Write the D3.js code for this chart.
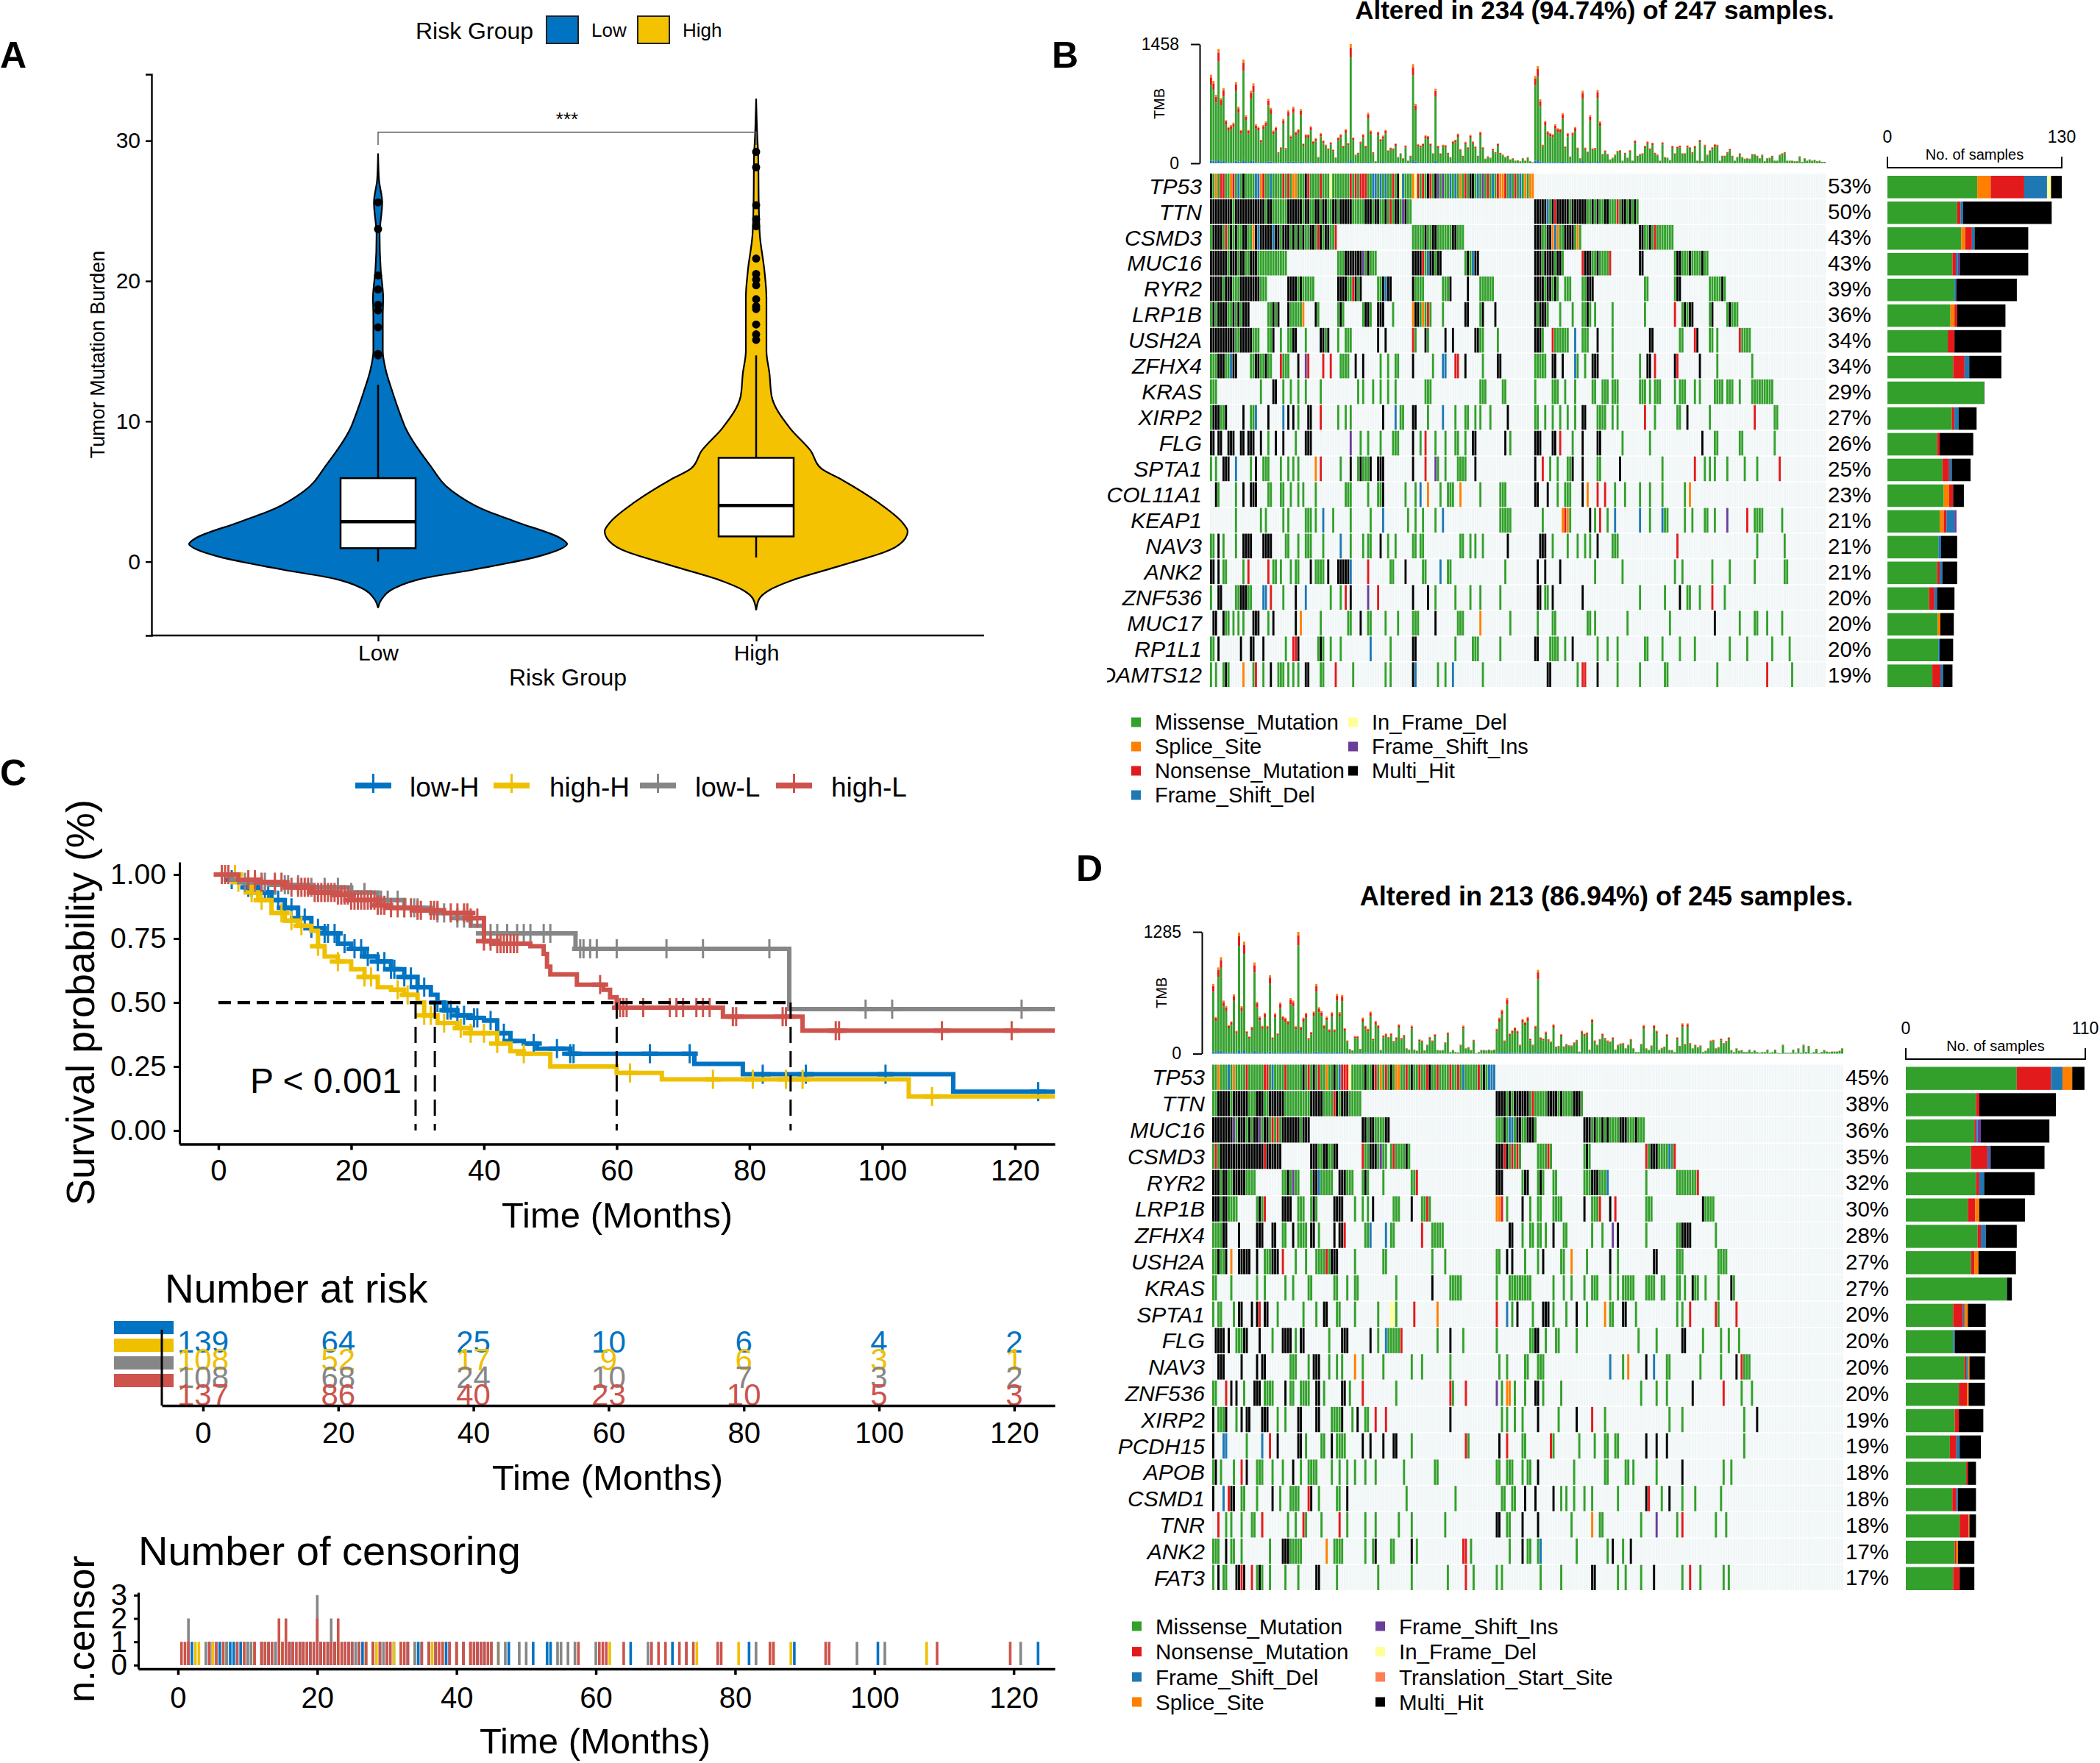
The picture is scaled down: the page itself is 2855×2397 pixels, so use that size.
<!DOCTYPE html>
<html><head><meta charset="utf-8">
<script src="https://cdn.jsdelivr.net/npm/d3@7"></script>
<style>html,body{margin:0;padding:0;background:#fff}svg{display:block}text{font-family:"Liberation Sans",Arial,sans-serif}</style>
</head><body><svg id="c" width="2855" height="2397"></svg>
<script>
// ---------- Panel A data ----------
const riskGroups=["Low","High"];
const violinLowValue=[-3.3,-2.66,-1.86,-1.22,-0.58,0.38,0.87,1.25,1.67,2.79,3.75,5.04,6.96,9.53,10.5,12.1,13.7,15,17.5,18.8,20.8,23.3,25.6,27.2,29.1];
const violinLowDensity=[0,.02,.09,.23,.5,.85,.96,1,.965,.74,.55,.39,.27,.145,.117,.076,.04,.025,.025,.027,.014,.008,.022,.005,0];
const violinHighValue=[-3.46,-2.66,-2.02,-1.38,-.26,.87,1.67,2.15,2.79,4.23,5.84,6.64,7.9,9.5,11.8,13.4,15,17.5,18.8,20.8,23.3,25.6,28.8,30.4,33];
const violinHighDensity=[0,.02,.088,.224,.565,.89,.985,1,.965,.803,.565,.429,.36,.224,.102,.088,.068,.068,.068,.054,.024,.017,.014,.007,0];
const boxLow=[0,0.96,2.85,5.95,12.6], boxHigh=[0.3,1.8,4,7.4,14.7];
const outliersLow=[14.7,14.8,16.7,17.9,18.3,19.4,20.4,23.7,25.6];
const outliersHigh=[15.8,16.2,16.9,18,18.2,18.7,19.7,20.1,20.5,21.6,23.9,24.4,25.4,28.1,29.2];
const tmbTicks=[0,10,20,30];

// ---------- Panel C data ----------
const kmGroups=["low-H","high-H","low-L","high-L"];
const kmColors=["#0073C2","#EFC000","#868686","#CD534C"];
const kmLowH=[[0,1],[2,.98],[4,.95],[6,.93],[8,.9],[10,.87],[12,.83],[14,.79],[16,.77],[18,.73],[20,.71],[22,.68],[24,.66],[26,.63],[28,.6],[30,.56],[32,.53],[33,.5],[34,.47],[36,.45],[38,.44],[40,.43],[42,.38],[44,.35],[46,.34],[48,.32],[53,.3],[71.7,.26],[79,.22],[110.7,.152],[126,.152]];
const kmHighH=[[0,1],[3,.97],[5,.93],[6,.9],[8,.85],[10,.82],[12,.8],[14,.78],[15,.72],[16,.68],[18,.66],[20,.63],[22,.6],[24,.56],[26,.55],[28,.53],[30,.5],[31,.45],[33,.42],[36,.4],[38,.38],[42,.34],[44,.31],[46,.3],[50,.25],[60,.225],[66.8,.2],[104,.133],[126,.133]];
const kmLowL=[[0,1],[2,.98],[4,.97],[8,.96],[14,.95],[20,.93],[24,.9],[28,.87],[32,.85],[36,.83],[38,.8],[40,.77],[53.8,.71],[86,.474],[126,.474]];
const kmHighL=[[0,1],[3,.98],[6,.97],[10,.95],[14,.93],[18,.92],[20,.9],[24,.88],[26,.87],[30,.86],[34,.85],[38,.83],[40,.74],[42,.73],[47,.72],[49,.69],[49.5,.64],[50,.61],[54,.57],[58,.55],[59,.52],[60,.48],[76,.445],[88,.39],[126,.39]];
const censorLowH=[2,4.5,5,6,7,7.5,8,9,10,11,12,13,14,15,16,16.5,17.5,19,20.5,21.5,22.5,24,25,26,26.5,28,29,30,31,33,34.5,35,36,37,38.5,39,41,43,44,47.5,51,53,53.5,65,71,82,88.5,100.5,123.5];
const censorHighH=[1.5,2.5,3,5,6.5,9.5,11,12.5,15,18,22,23,27,28.5,31,32,34,36.5,38,40,42,46,62,74.5,80.5,85.5,88,107.5];
const censorLowL=[1.5,1.5,4,5.5,7,8.5,10,10.5,12,14,16,18,20,20,20,22,22,24.5,25.5,27,28,29.5,30,33,34,36,37,40,41,42,43.5,45,46,47,49,50,54.5,55,56,57,60,67.5,73,83,97.5,101.5,121];
const censorHighL=[.5,1,1.5,4.5,5.5,6.5,8.5,9.5,11,12,12.5,13,13.5,14.5,14.5,15,15.5,15.5,16,16.5,17,17.5,18,18.5,19,19.5,20,20,20.5,21,21.5,22,22.5,23,23,23.5,24,24.5,25,26,27,28,29,30,30.5,32,32.5,33,35,36,37,37.5,38,39,40,41,42,42.5,43,43.5,44,44.5,45,57.5,60.5,61,61.5,64,68,69,70,72,73,74,77.5,78,85,85.5,93,93.5,109,119.5];
const riskTimes=[0,20,40,60,80,100,120];
const riskLowH=[139,64,25,10,6,4,2];
const riskHighH=[108,52,17,9,6,3,1];
const riskLowL=[108,68,24,10,7,3,2];
const riskHighL=[137,86,40,23,10,5,3];
const medianTimes=[29.7,32.6,60,86.2];

// ---------- Oncoplot data ----------
const typeColor={g:"#33A02C",o:"#FF7F00",r:"#E31A1C",b:"#1F78B4",y:"#FFFF99",p:"#6A3D9A",k:"#000000",t:"#FF7F50"};
const genesB=["TP53","TTN","CSMD3","MUC16","RYR2","LRP1B","USH2A","ZFHX4","KRAS","XIRP2","FLG","SPTA1","COL11A1","KEAP1","NAV3","ANK2","ZNF536","MUC17","RP1L1","ADAMTS12"];
const pctB=["53%","50%","43%","43%","39%","36%","34%","34%","29%","27%","26%","25%","23%","21%","21%","21%","20%","20%","20%","19%"];
const orderB=["g","o","r","b","y","p","k"];
const countsB=[[67,10,25,17,3,0,8],[52,0,2.5,2,0,0,66],[55,3,5,2,0,0,40],[48.5,0,2.5,1.5,0,1.5,51],[50,0,0,1,0,.5,45],[47,3,2,0,0,0,36],[45,0,5,0,0,0,35],[49,0,8.5,3.5,0,0,24],[72,0,0,0,0,0,.3],[48,0,2,3,0,0,13.5],[37,0,2,0,0,0,25],[41,0,5,2,0,0,14],[42,4,3,0,0,0,8],[39,3,2,6,0,1.5,0],[38,0,0,2,0,0,12],[37,0,2,2,0,0,11],[31,0,4,2,0,0,13],[37.5,2,0,0,0,0,10],[38,0,0,1,0,0,10],[33.5,0,6,2,0,0,7]];
const rowsB=[
"0-129g 0k 2o 4r 5r 8o 9r 11b 13k 18b 19b 20o 21r 24b 29r 31r 33o 34o 38k 39r 44r 48y 56r 58r 60r 61r 62r 65b 66b 68b 70b 73r 75k 76y 77b 81o 82y 83r 85r 87k 88r 90k 91p 93p 96b 98b 100o 102r 104k 105k 107b 109p 111r 113b 115r 116o 117o 118r 120b 122r 124b 126o 128o 129o",
"0-80g 0-8k 10-21k 23-24k 31-36k 38-39k 42-43k 45-46k 49-50k 52-56k 62-64k 66-67k 70k 72r 74-75k 77p 78k 130-171g 130-134k 135b 137k 138r 139-143k 145-150k 153k 155k 158-159k 163r 165-166k 168k 170k",
"0-50g 1-4k 6r 8k 10k 13-14k 17o 18k 19b 20-24k 25b 26-27k 29-31k 33k 35k 37k 40-41k 43r 44k 46-47k 50r 81-101g 86k 89-90k 97-98k 130-148g 130-132k 135-136k 137o 138b 139o 142-145k 147o 172-185g 172-173k 176k 178r",
"0-30g 0-6k 8-10k 12-13k 16-18k 51-66g 54-60k 61p 63k 81-92g 81-84k 85r 87b 88-89k 91-92k 102-107g 103k 105b 106-107k 130-141g 130-132k 134-137k 139-140k 149r 150-152k 153-159g 155k 160r 172-173k 186-199g 187-188k 192k 197k",
"0-22g 0-4k 6-8k 12-19k 31-41g 31-34k 36k 51-60g 51-54k 57r 58k 60k 67-72g 69-72k 70b 81-85g 81k 93-96g 96k 103k 108-113g 130-139g 130-133k 135-136k 138k 142-144g 149-153g 151-153k 174-175g 186-188g 187-188k 200-206g 205k",
"0-15g 1k 3-6k 9k 11k 13-15k 23-27g 25k 27k 31-37g 31k 37o 42-43g 42k 51-53g 52k 61-64g 62-63k 67-69k 73g 81-88g 81o 82-83k 85o 87r 93g 102-103k 108-109g 109k 114k 130-135g 130k 132-134k 140g 145g 149-152g 151k 154g 161g 174g 186r 189-193g 190k 192-193k 200-201g 201k 207-211g 208k",
"0-19g 0-9k 12-16k 23-25g 25k 28g 31-34g 33-34k 38g 44-47g 44-45k 47k 51g 54-56g 67k 70k 81r 82g 86-87g 86k 94k 97k 106-109g 106-107k 115g 130-133g 130-132k 137r 138-143g 146b 149-151g 155k 161g 176-177k 188-189g 194r 195k 200-201g 203g 212r 213-216g",
"0-10g 3-5k 8b 9-10k 16-24g 18-19k 22k 28r 29-31g 35k 38p 39r 45r 48r 52-55g 58k 61k 68g 71g 74-75g 81k 89g 93-94b 98-99r 102k 109g 115-116k 130-134g 137-138k 141k 146b 147g 150g 153-154k 155k 161g 172g 175-176k 178r 186k 187r 196k 203g 217g",
"0-2g 20g 25-26k 29g 32g 35g 38g 44g 59g 61g 65g 68g 71g 74g 86-88g 108-110g 117-118g 130g 137-139g 142g 146g 153-154g 157-159g 161-163g 172-174g 176g 178-180g 186g 188-190g 194g 196g 202-205g 207-209g 212g 217-225g",
"0-6g 1-3k 6k 13k 16-17g 18b 23k 29b 31k 33k 35g 39-40k 44r 51g 54g 56g 69k 74b 76-77g 81-82k 87g 93b 98g 102-103g 106g 108g 112g 119k 130-131g 134g 137g 140g 143g 146g 149-150k 155-158g 161g 163g 174r 178g 187-188g 191k 200g 218r 226-227g",
"0-1k 3-4k 7-9k 12-13k 15k 16-17k 20k 23g 26k 29k 34g 38-40k 56p 60g 63g 68g 73-75g 81k 84g 86r 90g 94g 98-99g 102g 105-106k 118k 120g 130-132k 137-138k 140r 145g 149k 155-156k 165g 176g 197k 202-203g 212-213g 226g",
"0g 2g 5-7k 10b 16g 18k 21-23g 28g 31g 33g 35g 42o 44r 52g 56k 59-64g 60k 64k 67-69k 81k 86r 90p 91g 94g 99-102g 106k 130k 133r 136g 139g 143-145g 145k 149k 155-156g 164k 181g 194r 198g 200g 202g 207g 214g 219g 228r",
"2k 3g 10g 13k 16k 17-18k 23-24g 28-29g 32g 35g 37g 42g 54-56g 63g 67-69g 69k 78g 82g 84b 87o 92g 95-97g 100o 108g 116-118g 130-131k 135k 139g 142-144g 149k 151o 155r 158r 162g 166g 172g 176g 181g 190g 192o",
"10g 20g 22g 29g 31g 38-40g 42g 45b 49g 56g 64g 69b 79g 82g 85g 90g 93b 116-120g 133g 141o 142r 143o 144g 152k 154g 156r 159g 162b 172b 176g 181b 182-183g 190g 193g 198-199g 202g 207p 215r 218-221g 229g",
"0-1g 3k 5g 10g 13-15k 16k 21-24k 30-31g 35g 38-40g 45g 52b 56g 61g 63-64g 68k 71g 74g 81-82g 84-85g 100-101g 104g 106g 109g 119k 132-134k 137g 143g 147g 150g 152g 155k 161-163g 187r 219g 230g",
"0-1k 3k 5-6g 13g 15r 23r 25-26g 28g 32g 34-35g 40k 42-45g 47k 51-55k 56b 63r 72-73g 78k 85-86g 92b 95-96g 118g 131k 134k 140k 154g 165g 186g 189g 201g 208g 218g 230-231g",
"0g 3-4k 10-16g 12-14k 21-22b 24r 29g 34k 38b 48g 52g 54r 56k 63p 67r 81k 87k 90g 98g 104g 108g 116g 131-132k 134-135g 137k 149k 172g 182g 188k 191-192g 196g 201r 206g",
"1-2k 5k 6-7g 9g 11g 13g 17-19k 23g 25k 34k 36o 44g 55-56g 60k 63-64g 70g 75g 81-83g 90k 99-101g 108o 120g 131g 137-138g 151-152g 154g 167g 184g 202k 212g 218-219g 223g 229g",
"0-1g 3k 12k 16-17k 21k 30g 33-34r 35k 43-45g 44k 48g 52g 64b 72g 81-82k 98g 105-107g 116g 130-131k 136-139g 142g 145k 155g 159g 163g 174-175g 181g 188g 194g 208g 215g 225g 232g",
"0g 2g 5-7g 6k 13o 17g 18r 21g 24k 27-29g 31g 33g 35g 38-39k 44-45g 50r 57g 70g 72g 81k 82b 91g 94g 97b 109g 135-136k 147g 149-150r 155k 163g 172g 182-183g 203g 223r 233g"];
const tmbB=[1083,1008,837,1398,798,918,528,447,468,498,993,693,408,1269,588,408,888,978,477,447,288,468,513,792,678,402,447,138,198,543,189,648,339,693,387,417,663,243,354,354,453,273,309,78,369,279,228,183,258,168,72,318,357,213,417,249,1458,318,108,129,267,357,213,618,402,138,27,387,297,339,408,159,192,183,243,78,123,63,219,33,93,1212,729,237,219,243,342,333,243,123,912,213,123,228,222,129,78,273,288,363,174,93,264,198,348,267,207,93,387,198,57,87,69,177,138,243,129,108,78,93,48,63,33,39,27,63,33,75,27,12,1068,1188,783,228,519,393,369,357,477,429,423,612,207,369,84,378,444,192,63,888,192,144,588,183,189,897,513,117,159,117,48,69,108,153,162,33,129,69,162,33,282,93,117,123,213,267,183,252,129,108,33,258,78,69,39,213,123,204,219,123,123,219,198,138,213,33,288,27,228,108,159,198,234,228,33,93,93,138,177,93,33,78,123,78,57,63,57,114,114,93,63,108,27,63,69,93,33,33,108,123,138,33,33,33,27,27,87,18,63,33,48,33,42,27,33,18,18];

const genesD=["TP53","TTN","MUC16","CSMD3","RYR2","LRP1B","ZFHX4","USH2A","KRAS","SPTA1","FLG","NAV3","ZNF536","XIRP2","PCDH15","APOB","CSMD1","TNR","ANK2","FAT3"];
const pctD=["45%","38%","36%","35%","32%","30%","28%","27%","27%","20%","20%","20%","20%","19%","19%","18%","18%","18%","17%","17%"];
const orderD=["g","r","b","o","p","y","t","k"];
const countsD=[[68,21,7,6,0,0,0,7.5],[43,2,0,0,0,0,0,47],[42,1,1,0,2,0,0,42],[40,10,1,0,1,0,0,33],[43,2,3,0,0,0,0,31],[38,4.5,0,2.5,0,0,0,28],[44,2,3,0,0,0,0,19],[40,2,0,2.5,0,0,0,23],[62,0,0,0,0,0,0,3],[29,6,1,2,0,0,0,11],[29,0,1,0,0,0,0,19],[36,1,1,1,0,0,0,9.5],[32.5,5,0,1,0,0,0,10],[30,2.5,0,0,0,0,0,15],[27,4,2,0,0,0,0,13],[37,1,0,0,0,0,0,5],[28.5,2.5,1,0,0,0,0,11],[33,5.5,0,.5,0,0,0,4],[30,1,0,1,0,0,0,10],[29,4,0,0,0,0,0,9]];
const rowsD=[
"0-109g 2o 6b 8o 13r 20-21r 23b 28r 35k 37r 39k 41r 44o 47k 49b 50-52r 53y 59k 62k 63r 65o 67r 69k 71-72o 75r 77k 80r 83r 84k 87r 92r 95r 97b 103r 105k 107-109b",
"0-57g 2-6k 8-13k 17-19k 22-27k 38-42k 47r 48k 50-52k 110-143g 110-113k 115k 117-122k 124r 130-133k 135k 140-142k",
"0-37g 0-7k 8p 10-12k 14k 16-17k 18p 20-21k 23r 25r 27-33k 35-37k 58-68g 58-59k 61-62k 67-68k 110-125g 113k 115-116b 118-119k 122-124k 144-167g 144-146k 148k 151k 153k 158-160k 164k",
"0-26g 1r 3-19k 20r 21-26k 38-48g 38-40k 43-44k 47-48k 58-67g 58r 61-63k 65p 69-76g 70r 75k 110-119g 110-112k 113r 114k 116r 118r 126-131g 130r 144-146g 145k 168r 169-179g 170-172k 177b 179r",
"0-16g 0-2k 4-5k 8-12k 27-33g 29k 31p 38-46g 39-40k 41b 49-54g 49-51k 58-60g 59k 66g 77-79g 79r 110-112k 120-122g 121-122k 126-128g 127k 132-133g 144-153g 147-149k 153b 168g 180-188g 188r",
"0-9g 0-2k 4-5k 17-20g 18k 20r 27-30k 33-35g 38-40g 39k 47-50k 55g 58g 60g 62k 70-72g 77k 81-84g 83r 110-111o 112r 114g 120k 123g 126-127g 132-135g 144k 147-149g 150r 154k 156r 168-170g 190-194g 190k",
"0-5g 4-5k 10k 17-19k 23-24k 27-28g 31k 33-36g 38-39k 41g 47k 49-51k 51r 59-60g 61b 67b 69-70g 81r 85-89g 115-116k 120g 123-124g 126-127g 129g 132k 136-137g 147g 151g 155p 157k 168g 180-185g 182-185k 195g",
"0-5g 2k 5k 7o 10-14k 17k 20-22g 23-25k 27r 32g 36g 40-46g 44r 46-48k 55g 66-67g 85g 90g 110-111g 114k 116k 121g 126g 128k 135-136g 139o 145g 154k 157g 171-172k 180-182g 196-199g",
"0-1g 7g 17g 20g 28g 31g 37-38g 47-48g 52g 55-56g 71g 85k 92-96g 110g 115-119g 120-123g 132g 136g 139g 144g 147-149g 154g 157g 159-163g 168-171g 174-175g 180-181g 183g 186k 187-188g 191g 196g 201k 202g",
"0g 2-3g 8g 10-11k 15k 17k 18r 20-21k 25g 35g 40g 43-44k 48-49g 55g 64g 69-70y 71g 78r 87o 110r 114b 116g 118k 124g 128-130k 132g 137g 141k 145g 152o 154-155g 159-160k 164g 180g 182g 185r 195r 196g 203r",
"1-4k 6k 9-12g 12-13k 18k 23g 27-30k 32g 34-35k 45g 50-52k 61k 64g 67b 68-72g 73r 87g 92k 97g 110g 123-124g 125-126k 129g 133g 134g 141g 165g 172g 182-183k 190g 197g 200g 204g",
"2-4k 11k 17k 19-20k 30-32g 37g 39-41k 45g 48g 50g 55o 58g 66g 77g 81g 92g 111g 114g 121-122g 126-128g 154b 159g 161o 168k 171b 176-177g 189g 197g 203k 205r 206-208g",
"0-1g 5r 7k 9k 12g 16-18k 20-23g 28k 30-31g 34-37g 40-41k 43g 50-51k 53g 58r 71g 92r 93g 98r 110p 112g 114-115o 117g 121g 125-126k 128g 135g 166g 172g 176g 186k 198r 205g 209g",
"0k 2-5g 5k 9g 11k 13-14k 19-20k 21k 25g 28g 33-34k 40-41k 46-50g 50k 54g 56k 59-60g 63r 67r 92k 112g 114g 117g 120g 126k 134g 141k 147r 152g 177g 182g 206g 211k",
"0k 4-5b 13g 19b 22r 25k 33-34k 36g 42-43g 46k 48-51g 58k 61k 66k 70-71k 77g 98r 99g 111k 114r 120-121g 131r 132g 142g 148g 152-153g 156-157g 168k 172k 176k 206g",
"0-1g 1k 3g 8g 11r 13k 17-19g 23g 27g 31k 34g 37-39g 40g 46g 49g 52g 55g 59g 63g 74g 86-87g 110-111g 114-116g 120g 122-123g 126k 140g 152-153g 160-161g 163g 172g 182k 198g 201g",
"0k 4b 6r 7-8k 11-12g 17g 23k 26g 30-33g 37r 38k 41g 48-49g 52k 75g 94g 112-113g 116-117g 121k 125k 132k 135g 137g 140g 144g 147g 157g 168k 169r 174g 177k 182g 187g 197g",
"2r 5g 7g 11g 15-16g 19r 29g 32g 35r 36g 42g 49r 52g 59g 63g 72g 77g 90g 110-111k 114-115g 120k 126k 139g 147o 150-151g 166g 172p 180g 182r 195g 199g",
"0-2g 5k 7-8g 11g 22g 27-34g 27-29k 44o 47-50g 59g 62g 63k 69-70g 77k 79g 97-98r 100g 115g 120k 122-123g 126g 127b 141g 153g 155k 159g 162k",
"0g 2k 4-5g 9-12k 11r 15r 17-19g 18k 22g 28g 33g 40-41k 48g 64g 77g 91g 98r 101g 110g 112g 127g 135g 147-148k 157g 160g 166g 171k 182g 185r 189g 198g 200g"];
const tmbD=[734,388,910,1018,561,504,302,341,626,243,1277,501,1181,238,181,284,962,548,393,295,432,295,827,173,427,217,540,398,380,346,587,561,290,1285,284,380,432,165,230,445,734,491,450,302,393,258,437,258,631,440,620,269,140,49,36,186,186,52,380,295,264,445,160,346,300,39,194,212,178,217,134,173,310,165,199,57,44,297,44,31,152,140,36,96,178,140,207,39,36,39,121,225,18,39,18,13,96,297,57,70,39,147,5,18,39,39,36,44,36,44,264,380,465,140,587,212,246,277,243,96,367,336,388,160,96,295,884,173,160,233,155,129,310,75,83,207,78,103,90,88,121,147,23,243,212,225,44,367,140,96,155,212,168,140,129,173,44,96,108,114,57,96,155,57,18,18,103,302,57,39,88,302,243,39,62,75,207,39,39,18,173,83,320,103,320,114,57,96,70,88,18,31,57,140,147,57,70,160,114,134,173,39,18,57,31,39,18,18,44,18,36,18,10,18,18,44,10,18,44,10,5,96,10,10,10,44,10,57,10,96,18,83,5,18,52,5,18,39,23,18,23,23,23,31,57];
const tmbShares={b:.03,g:.86,r:.08,o:.03};

const legendB=[["Missense_Mutation","g"],["Splice_Site","o"],["Nonsense_Mutation","r"],["Frame_Shift_Del","b"],["In_Frame_Del","y"],["Frame_Shift_Ins","p"],["Multi_Hit","k"]];
const legendD=[["Missense_Mutation","g"],["Nonsense_Mutation","r"],["Frame_Shift_Del","b"],["Splice_Site","o"],["Frame_Shift_Ins","p"],["In_Frame_Del","y"],["Translation_Start_Site","t"],["Multi_Hit","k"]];

// ---------- helpers ----------
const svg=d3.select("#c");
function txt(x,y,s,o={}){
  const t=svg.append("text").attr("x",x).attr("y",y).text(s)
    .attr("font-size",o.size||30).attr("text-anchor",o.anchor||"start")
    .attr("fill",o.fill||"#000");
  if(o.weight)t.attr("font-weight",o.weight);
  if(o.italic)t.attr("font-style","italic");
  if(o.mid)t.attr("dy",".36em");
  if(o.rot!=null)t.attr("transform",`rotate(${o.rot} ${x} ${y})`);
  return t;
}
function styleAxis(g,size,sw){
  g.selectAll("text").attr("font-size",size).attr("fill","#000").attr("font-family",'"Liberation Sans",Arial,sans-serif');
  g.selectAll("line,path").attr("stroke","#000").attr("stroke-width",sw);
  return g;
}

// ---------- Panel A ----------
txt(0,92,"A",{size:50,weight:"bold"});
const yA=d3.scaleLinear().domain([-5.26,34.73]).range([864,101]);
const xA=d3.scalePoint().domain(riskGroups).range([514,1028]);
const wLow=d3.scaleLinear().domain([0,1]).range([0,257]);
const wHigh=d3.scaleLinear().domain([0,1]).range([0,206]);
function violin(values,dens,cat,w,color){
  const data=values.map((v,i)=>[v,dens[i]]);
  const c=xA(cat);
  svg.append("path").datum(data)
    .attr("d",d3.area().y(d=>yA(d[0])).x0(d=>c-w(d[1])).x1(d=>c+w(d[1])).curve(d3.curveMonotoneY))
    .attr("fill",color).attr("stroke","#000").attr("stroke-width",2.2);
}
violin(violinLowValue,violinLowDensity,"Low",wLow,"#0073C2");
violin(violinHighValue,violinHighDensity,"High",wHigh,"#F4C200");
function box(b,out,cat){
  const c=xA(cat),hw=51;
  svg.append("line").attr("x1",c).attr("x2",c).attr("y1",yA(b[0])).attr("y2",yA(b[4])).attr("stroke","#000").attr("stroke-width",2.5);
  svg.append("rect").attr("x",c-hw).attr("width",2*hw).attr("y",yA(b[3])).attr("height",yA(b[1])-yA(b[3])).attr("fill","#fff").attr("stroke","#000").attr("stroke-width",2.5);
  svg.append("line").attr("x1",c-hw).attr("x2",c+hw).attr("y1",yA(b[2])).attr("y2",yA(b[2])).attr("stroke","#000").attr("stroke-width",4.5);
  svg.selectAll(null).data(out).enter().append("circle").attr("cx",c).attr("cy",d=>yA(d)).attr("r",5.5).attr("fill","#000");
}
box(boxLow,outliersLow,"Low");box(boxHigh,outliersHigh,"High");
svg.append("path").attr("d",d3.line()([[xA("Low"),yA(29.7)],[xA("Low"),yA(30.6)],[xA("High"),yA(30.6)],[xA("High"),yA(29.7)]])).attr("fill","none").attr("stroke","#555").attr("stroke-width",1.4);
txt(771,171,"***",{size:26,anchor:"middle"});
styleAxis(svg.append("g").attr("transform","translate(206,0)").call(d3.axisLeft(yA).tickValues(tmbTicks).tickSize(8).tickPadding(7)),30,2.4);
styleAxis(svg.append("g").attr("transform","translate(0,864)").call(d3.axisBottom(xA).tickSize(8).tickPadding(5).tickSizeOuter(0)),30,2.4).select(".domain").remove();
svg.append("line").attr("x1",206).attr("x2",1338).attr("y1",864).attr("y2",864).attr("stroke","#000").attr("stroke-width",2.4);
txt(772,920,"Risk Group",{size:32,anchor:"middle",mid:1});
txt(132,482,"Tumor Mutation Burden",{size:27,anchor:"middle",rot:-90,mid:1});
txt(565,41,"Risk Group",{size:32,mid:1});
[["Low",743,"#0073C2"],["High",867,"#F4C200"]].forEach(([l,x,c])=>{
  svg.append("rect").attr("x",x).attr("y",22).attr("width",43).attr("height",37).attr("fill",c).attr("stroke","#222").attr("stroke-width",2);
  txt(x+61,41,l,{size:26,mid:1});
});

// ---------- Oncoplot ----------
function parseRow(s){
  const m=new Map();
  s.split(/\s+/).forEach(tok=>{
    const r=/^(\d+)(?:-(\d+))?([a-z])$/.exec(tok);
    if(!r)return;
    const a=+r[1],b=r[2]?+r[2]:a;
    d3.range(a,b+1).forEach(i=>m.set(i,r[3]));
  });
  return Array.from(m,([i,t])=>({i,t}));
}
function onco(o){
  const x=d3.scaleBand().domain(d3.range(o.n)).range(o.xr).paddingInner(.16);
  const y=d3.scaleBand().domain(o.genes).range(o.yr).paddingInner(.04);
  txt(o.titleX,o.titleY,o.title,{size:o.titleSize,weight:"bold",anchor:"middle"});
  // TMB
  const yT=d3.scaleLinear().domain([0,o.tmbMax]).range(o.tmbR);
  const keys=["b","g","r","o"];
  const stackData=o.tmb.map(v=>Object.fromEntries(keys.map(k=>[k,v*tmbShares[k]])));
  const st=d3.stack().keys(keys)(stackData);
  st.forEach(layer=>{
    svg.append("g").attr("fill",typeColor[layer.key]).selectAll("rect").data(layer).enter().append("rect")
      .attr("x",(d,i)=>x(i)).attr("width",x.bandwidth())
      .attr("y",d=>yT(d[1])).attr("height",d=>Math.max(0,yT(d[0])-yT(d[1])));
  });
  const tax=svg.append("g").attr("transform",`translate(${o.tmbAxisX},0)`).call(d3.axisLeft(yT).tickValues([0,o.tmbMax]).tickSize(12).tickPadding(16).tickSizeOuter(0).tickFormat(d3.format("d")));
  styleAxis(tax,o.tickSize,2);
  txt(o.tmbAxisX-55,(o.tmbR[0]+o.tmbR[1])/2,"TMB",{size:20,anchor:"middle",rot:-90,mid:1});
  // clip for long gene labels
  svg.append("clipPath").attr("id","clip"+o.id).append("rect").attr("x",o.clipX).attr("y",o.yr[0]-5).attr("width",1400).attr("height",o.yr[1]-o.yr[0]+10);
  // grid
  o.genes.forEach((g,ri)=>{
    const gg=svg.append("g").attr("transform",`translate(0,${y(g)})`);
    gg.selectAll("rect.bg").data(d3.range(o.n)).enter().append("rect").attr("class","bg")
      .attr("x",d=>x(d)).attr("width",x.bandwidth()).attr("height",y.bandwidth()).attr("fill","#F1F6F7");
    gg.selectAll("rect.c").data(parseRow(o.rows[ri])).enter().append("rect").attr("class","c")
      .attr("x",d=>x(d.i)).attr("width",x.bandwidth()).attr("height",y.bandwidth()).attr("fill",d=>typeColor[d.t]);
    txt(o.geneX,y(g)+y.bandwidth()/2,g,{size:o.geneSize,italic:1,anchor:"end",mid:1}).attr("clip-path","url(#clip"+o.id+")");
    txt(o.pctX,y(g)+y.bandwidth()/2,o.pct[ri],{size:o.pctSize,mid:1});
  });
  // right bars
  const xB=d3.scaleLinear().domain([0,o.barMax]).range(o.barR);
  const sd=o.counts.map(r=>Object.fromEntries(o.order.map((k,i)=>[k,r[i]])));
  const rs=d3.stack().keys(o.order)(sd);
  rs.forEach(layer=>{
    svg.append("g").attr("fill",typeColor[layer.key]).selectAll("rect").data(layer).enter().append("rect")
      .attr("x",d=>xB(d[0])).attr("width",d=>xB(d[1])-xB(d[0]))
      .attr("y",(d,i)=>y(o.genes[i])+o.barInset).attr("height",y.bandwidth()-o.barInset);
  });
  const by=o.barAxisY;
  svg.append("path").attr("d",d3.line()([[o.barR[0],by-15],[o.barR[0],by],[o.barR[1],by],[o.barR[1],by-15]])).attr("fill","none").attr("stroke","#000").attr("stroke-width",2);
  txt(o.barR[0],by-42,"0",{size:o.tickSize,anchor:"middle",mid:1});
  txt(o.barR[1],by-42,o.barMax,{size:o.tickSize,anchor:"middle",mid:1});
  txt((o.barR[0]+o.barR[1])/2,by-18,"No. of samples",{size:20,anchor:"middle",mid:1});
  // legend
  o.legend.forEach(([l,t],i)=>{
    const col=i<o.legCol?0:1, row=col?i-o.legCol:i;
    const yy=o.legY[row];
    svg.append("rect").attr("x",o.legX[col]).attr("y",yy-6.5).attr("width",13).attr("height",13).attr("fill",typeColor[t]);
    txt(o.legX[col]+32,yy,l,{size:o.legSize,mid:1});
  });
}
txt(1430,92,"B",{size:50,weight:"bold"});
onco({id:"B",n:247,genes:genesB,pct:pctB,rows:rowsB,counts:countsB,order:orderB,tmb:tmbB,tmbMax:1458,
  xr:[1645,2482],yr:[236,934],title:"Altered in 234 (94.74%) of 247 samples.",titleX:2168,titleY:26,titleSize:35,
  tmbR:[222,60],tmbAxisX:1631,tickSize:23,geneX:1634,geneSize:30,pctSize:29.5,pctX:2485,clipX:1505,
  barMax:130,barR:[2566,2803],barInset:3,barAxisY:228,
  legend:legendB,legCol:4,legX:[1538,1833],legY:[982,1015,1048,1081],legSize:29});
txt(1463,1198,"D",{size:50,weight:"bold"});
onco({id:"D",n:245,genes:genesD,pct:pctD,rows:rowsD,counts:countsD,order:orderD,tmb:tmbD,tmbMax:1285,
  xr:[1648,2506],yr:[1447.5,2162],title:"Altered in 213 (86.94%) of 245 samples.",titleX:2184,titleY:1231,titleSize:36,
  tmbR:[1432.6,1267],tmbAxisX:1634,tickSize:23,geneX:1638,geneSize:30,pctSize:29.5,pctX:2509,clipX:1400,
  barMax:110,barR:[2591,2835],barInset:3,barAxisY:1440,
  legend:legendD,legCol:4,legX:[1539,1870],legY:[2211,2245.6,2280,2314],legSize:29.5});

// ---------- Panel C: KM ----------
txt(0,1068,"C",{size:50,weight:"bold"});
const xKM=d3.scaleLinear().domain([-5.87,126]).range([244,1434]);
const yKM=d3.scaleLinear().domain([-.053,1.049]).range([1555.5,1172]);
const curves=[kmLowH,kmHighH,kmLowL,kmHighL];
const censors=[censorLowH,censorHighH,censorLowL,censorHighL];
const lineKM=d3.line().x(d=>xKM(d[0])).y(d=>yKM(d[1])).curve(d3.curveStepAfter);
function survAt(c,t){const i=d3.bisectRight(c.map(d=>d[0]),t)-1;return c[Math.max(0,i)][1];}
curves.forEach((c,i)=>{
  svg.append("path").datum(c).attr("d",lineKM).attr("fill","none").attr("stroke",kmColors[i]).attr("stroke-width",6);
  const g=svg.append("g").attr("stroke",kmColors[i]);
  const pts=g.selectAll("g").data(Array.from(new Set(censors[i]))).enter().append("g")
    .attr("transform",d=>`translate(${xKM(d)},${yKM(survAt(c,d))})`);
  pts.append("line").attr("y1",-13).attr("y2",13).attr("stroke-width",3);
  pts.append("line").attr("x1",-11).attr("x2",11).attr("stroke-width",6);
});
svg.append("line").attr("x1",xKM(0)).attr("x2",xKM(86.2)).attr("y1",yKM(.5)).attr("y2",yKM(.5)).attr("stroke","#000").attr("stroke-width",4.2).attr("stroke-dasharray","17 9");
svg.selectAll(null).data(medianTimes).enter().append("line").attr("x1",d=>xKM(d)).attr("x2",d=>xKM(d)).attr("y1",yKM(.5)).attr("y2",yKM(0)).attr("stroke","#000").attr("stroke-width",3).attr("stroke-dasharray","22 11");
txt(340,1469,"P < 0.001",{size:48,mid:1});
styleAxis(svg.append("g").attr("transform","translate(244,0)").call(d3.axisLeft(yKM).tickValues([0,.25,.5,.75,1]).tickFormat(d3.format(".2f")).tickSize(8).tickPadding(10).tickSizeOuter(0)),39,3);
styleAxis(svg.append("g").attr("transform","translate(0,1555.5)").call(d3.axisBottom(xKM).tickValues(riskTimes).tickSize(8).tickPadding(13).tickSizeOuter(0)),40,3.5);
txt(839,1651,"Time (Months)",{size:49,anchor:"middle",mid:1});
txt(109,1363,"Survival probability (%)",{size:54,anchor:"middle",rot:-90,mid:1});
[[483,557],[671,747],[870,945],[1055,1130]].forEach(([x,tx],i)=>{
  svg.append("line").attr("x1",x).attr("x2",x+49).attr("y1",1068).attr("y2",1068).attr("stroke",kmColors[i]).attr("stroke-width",8);
  svg.append("line").attr("x1",x+24.5).attr("x2",x+24.5).attr("y1",1052).attr("y2",1078).attr("stroke",kmColors[i]).attr("stroke-width",3);
  txt(tx,1070,kmGroups[i],{size:37,mid:1});
});

// ---------- Number at risk ----------
txt(224,1771,"Number at risk",{size:55});
const xRisk=d3.scaleLinear().domain([-6.09,126]).range([220,1434]);
const yRisk=d3.scalePoint().domain(kmGroups).range([1824,1896]);
[riskLowH,riskHighH,riskLowL,riskHighL].forEach((vals,i)=>{
  const g=kmGroups[i];
  svg.selectAll(null).data(vals).enter().append("text").attr("x",(d,j)=>xRisk(riskTimes[j])).attr("y",yRisk(g)).attr("dy",".36em")
    .attr("text-anchor","middle").attr("font-size",42).attr("fill",kmColors[i]).text(d=>d);
  svg.append("rect").attr("x",155).attr("width",81).attr("y",yRisk(g)-28).attr("height",18).attr("fill",kmColors[i]);
});
svg.append("line").attr("x1",220).attr("x2",220).attr("y1",1808).attr("y2",1911).attr("stroke","#000").attr("stroke-width",3);
styleAxis(svg.append("g").attr("transform","translate(0,1911)").call(d3.axisBottom(xRisk).tickValues(riskTimes).tickSize(8).tickPadding(15).tickSizeOuter(0)),40,3.5);
txt(826,2008,"Time (Months)",{size:49,anchor:"middle",mid:1});

// ---------- Number of censoring ----------
txt(188,2128,"Number of censoring",{size:56});
const xC=d3.scaleLinear().domain([-5.7,125.9]).range([188,1434]);
const yC=d3.scaleLinear().domain([-.16,3.12]).range([2269,2165]);
censors.forEach((c,i)=>{
  const counts=Array.from(d3.rollup(c,v=>v.length,d=>d));
  svg.append("g").attr("fill",kmColors[i]).selectAll("rect").data(counts).enter().append("rect")
    .attr("x",d=>xC(d[0])-1.8).attr("width",3.6).attr("y",d=>yC(d[1])).attr("height",d=>yC(0)-yC(d[1]));
});
styleAxis(svg.append("g").attr("transform","translate(188,0)").call(d3.axisLeft(yC).tickValues([0,1,2,3]).tickFormat(d3.format("d")).tickSize(6).tickPadding(9).tickSizeOuter(0)),40,3);
styleAxis(svg.append("g").attr("transform","translate(0,2269)").call(d3.axisBottom(xC).tickValues(riskTimes).tickSize(8).tickPadding(17).tickSizeOuter(0)),40,3.5);
txt(809,2366,"Time (Months)",{size:49,anchor:"middle",mid:1});
txt(109,2215,"n.censor",{size:52,anchor:"middle",rot:-90,mid:1});
</script></body></html>
